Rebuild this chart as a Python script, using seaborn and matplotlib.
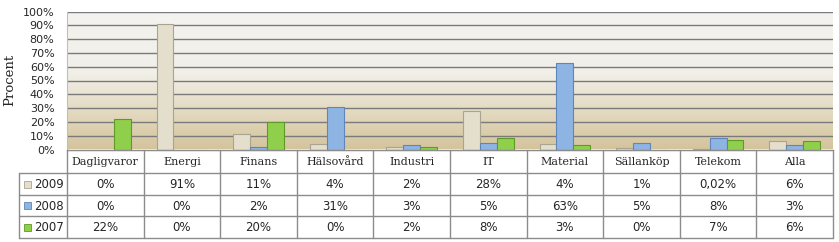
import numpy as np
import pandas as pd
import seaborn as sns
import matplotlib
matplotlib.use("Agg")
import matplotlib.pyplot as plt
from matplotlib.colors import LinearSegmentedColormap
from matplotlib.patches import Rectangle

# ---- data ----
categories = ["Dagligvaror", "Energi", "Finans", "Hälsovård", "Industri",
              "IT", "Material", "Sällanköp", "Telekom", "Alla"]
years = ["2009", "2008", "2007"]
values_2009 = [0, 91, 11, 4, 2, 28, 4, 1, 0.02, 6]
values_2008 = [0, 0, 2, 31, 3, 5, 63, 5, 8, 3]
values_2007 = [22, 0, 20, 0, 2, 8, 3, 0, 7, 6]
labels_2009 = ["0%", "91%", "11%", "4%", "2%", "28%", "4%", "1%", "0,02%", "6%"]
labels_2008 = ["0%", "0%", "2%", "31%", "3%", "5%", "63%", "5%", "8%", "3%"]
labels_2007 = ["22%", "0%", "20%", "0%", "2%", "8%", "3%", "0%", "7%", "6%"]
yticks = [0, 10, 20, 30, 40, 50, 60, 70, 80, 90, 100]

colors = {"2009": "#E4DFCC", "2008": "#8DB4E3", "2007": "#90CF4C"}
edges = {"2009": "#A9A48F", "2008": "#5F86B8", "2007": "#5E9A26"}

df = pd.DataFrame({
    "Kategori": categories * 3,
    "År": ["2009"] * 10 + ["2008"] * 10 + ["2007"] * 10,
    "Procent": values_2009 + values_2008 + values_2007,
})

sns.set_style("white")
W, H = 839, 242
fig = plt.figure(figsize=(W / 100, H / 100), dpi=100)

ax_l, ax_r, ax_t, ax_b = 67, 833, 11.5, 149.5
ax = fig.add_axes([ax_l / W, 1 - ax_b / H, (ax_r - ax_l) / W, (ax_b - ax_t) / H])

# gradient background
grad = np.linspace(0, 1, 256).reshape(-1, 1)
cmap = LinearSegmentedColormap.from_list(
    "bg", [(0.0, "#D4C49D"), (0.25, "#E2D8BD"), (0.55, "#F1EFE8"), (1.0, "#F4F3EF")])
ax.imshow(grad, extent=(-0.5, 9.5, 0, 100), origin="lower", aspect="auto",
          cmap=cmap, zorder=0)

sns.barplot(data=df, x="Kategori", y="Procent", hue="År", hue_order=years,
            palette=colors, saturation=1, width=0.66, ax=ax, legend=False, zorder=3)
for bars, yr in zip(ax.containers, years):
    for b in bars:
        b.set_edgecolor(edges[yr])
        b.set_linewidth(0.8)

ax.set_xlim(-0.5, 9.5)
ax.set_ylim(0, 100)
ax.set_yticks(yticks)
ax.set_yticklabels([f"{t}%" for t in yticks], fontsize=8, family="DejaVu Sans")
ax.tick_params(axis="y", length=0, pad=9)
ax.set_xticks([])
ax.set_xlabel("")
ax.set_ylabel("")
for t in yticks[1:]:
    ax.axhline(t, color="#7A7A7A", lw=1.0, zorder=1)
for s in ["top", "right"]:
    ax.spines[s].set_visible(False)
ax.spines["left"].set_color("#BFBFBF")
ax.spines["bottom"].set_color("#808080")

fig.text(10 / W, 1 - 80 / H, "Procent", rotation=90, ha="center", va="center",
         fontsize=9.5, family="DejaVu Serif")

# ---- data table below ----
tab = fig.add_axes([0, 0, 1, 1])
tab.set_xlim(0, W)
tab.set_ylim(H, 0)
tab.axis("off")
tab.patch.set_alpha(0)

col_w = (ax_r - ax_l) / len(categories)
col_edges = [ax_l + i * col_w for i in range(len(categories) + 1)]
row_y = [149.5, 172.5, 194.5, 215.5, 237.5]
lab_left = 18.5
lc = "#8C8C8C"

tab.plot([ax_l, ax_r], [row_y[0]] * 2, color=lc, lw=1)
for y in row_y[1:]:
    tab.plot([lab_left, ax_r], [y, y], color=lc, lw=1)
for x in col_edges:
    tab.plot([x, x], [row_y[0], row_y[-1]], color=lc, lw=1)
tab.plot([lab_left, lab_left], [row_y[1], row_y[-1]], color=lc, lw=1)

for i, c in enumerate(categories):
    tab.text(col_edges[i] + col_w / 2, (row_y[0] + row_y[1]) / 2 + 1, c,
             ha="center", va="center", fontsize=8, family="DejaVu Serif")

rows = [("2009", labels_2009), ("2008", labels_2008), ("2007", labels_2007)]
for r, (yr, labs) in enumerate(rows):
    yc = (row_y[r + 1] + row_y[r + 2]) / 2 + 1
    tab.add_patch(Rectangle((24, yc - 4), 7, 7, facecolor=colors[yr],
                            edgecolor=edges[yr], lw=0.6))
    tab.text(34, yc, yr, ha="left", va="center", fontsize=8.5, family="DejaVu Sans")
    for i, s in enumerate(labs):
        tab.text(col_edges[i] + col_w / 2, yc, s, ha="center", va="center",
                 fontsize=8.5, family="DejaVu Sans")

fig.savefig("out.png", dpi=100, facecolor="white")
